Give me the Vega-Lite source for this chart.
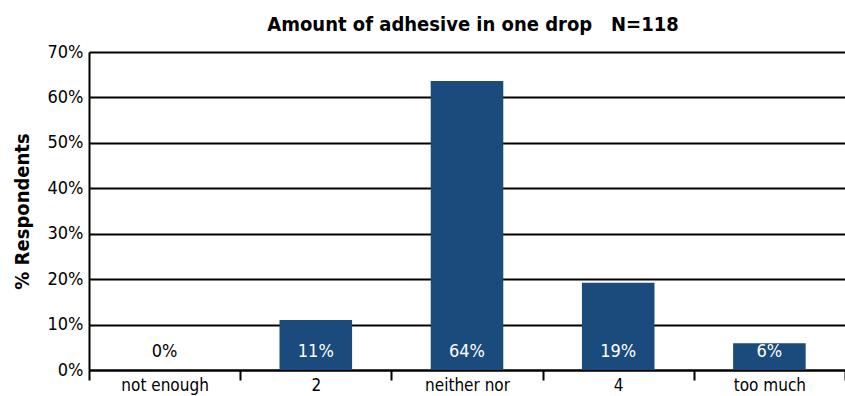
{
  "$schema": "https://vega.github.io/schema/vega-lite/v6.json",
  "width": 756,
  "height": 318,
  "autosize": {"type": "none"},
  "padding": {"left": 89, "top": 52, "right": 0, "bottom": 26},
  "background": "white",
  "config": {
    "view": {"stroke": null},
    "font": "DejaVu Sans Condensed, Liberation Sans, sans-serif"
  },
  "title": {
    "text": "Amount of adhesive in one drop\u00a0\u00a0\u00a0N=118",
    "font": "DejaVu Sans Condensed, Liberation Sans, sans-serif",
    "fontSize": 20,
    "fontWeight": "bold",
    "color": "#000",
    "anchor": "middle",
    "dx": 6,
    "offset": 8
  },
  "data": {
    "values": [
      {"cat": "not enough", "pct": 0.0},
      {"cat": "2", "pct": 0.110},
      {"cat": "neither nor", "pct": 0.636},
      {"cat": "4", "pct": 0.192},
      {"cat": "too much", "pct": 0.059}
    ]
  },
  "encoding": {
    "x": {
      "field": "cat",
      "type": "nominal",
      "sort": null,
      "scale": {"paddingInner": 0, "paddingOuter": 0},
      "axis": {
        "title": null,
        "labelAngle": 0,
        "labelFontSize": 17,
        "labelColor": "#000",
        "labelPadding": -3,
        "tickBand": "extent",
        "tickSize": 10,
        "tickWidth": 2,
        "tickColor": "#000",
        "domainColor": "#000",
        "domainWidth": 2,
        "grid": false
      }
    }
  },
  "layer": [
    {
      "mark": {"type": "bar", "color": "#1B4B7D", "width": {"band": 0.48}},
      "encoding": {
        "y": {
          "field": "pct",
          "type": "quantitative",
          "scale": {"domain": [0, 0.7], "nice": false},
          "axis": {
            "title": "% Respondents",
            "titleFontSize": 20,
            "titleFontWeight": "bold",
            "titleColor": "#000",
            "titlePadding": 15,
            "format": ".0%",
            "values": [0, 0.1, 0.2, 0.3, 0.4, 0.5, 0.6, 0.7],
            "labelFontSize": 18,
            "labelColor": "#000",
            "labelPadding": 6,
            "ticks": false,
            "grid": true,
            "gridColor": "#000",
            "gridWidth": 2,
            "gridOpacity": 1,
            "domainColor": "#000",
            "domainWidth": 2
          }
        }
      }
    },
    {
      "mark": {"type": "text", "fontSize": 18, "baseline": "bottom", "dy": -9},
      "encoding": {
        "y": {"datum": 0, "type": "quantitative"},
        "text": {"field": "pct", "type": "quantitative", "format": ".0%"},
        "color": {
          "condition": {"test": "datum.pct == 0", "value": "#000"},
          "value": "#FFFFFF"
        }
      }
    }
  ]
}
